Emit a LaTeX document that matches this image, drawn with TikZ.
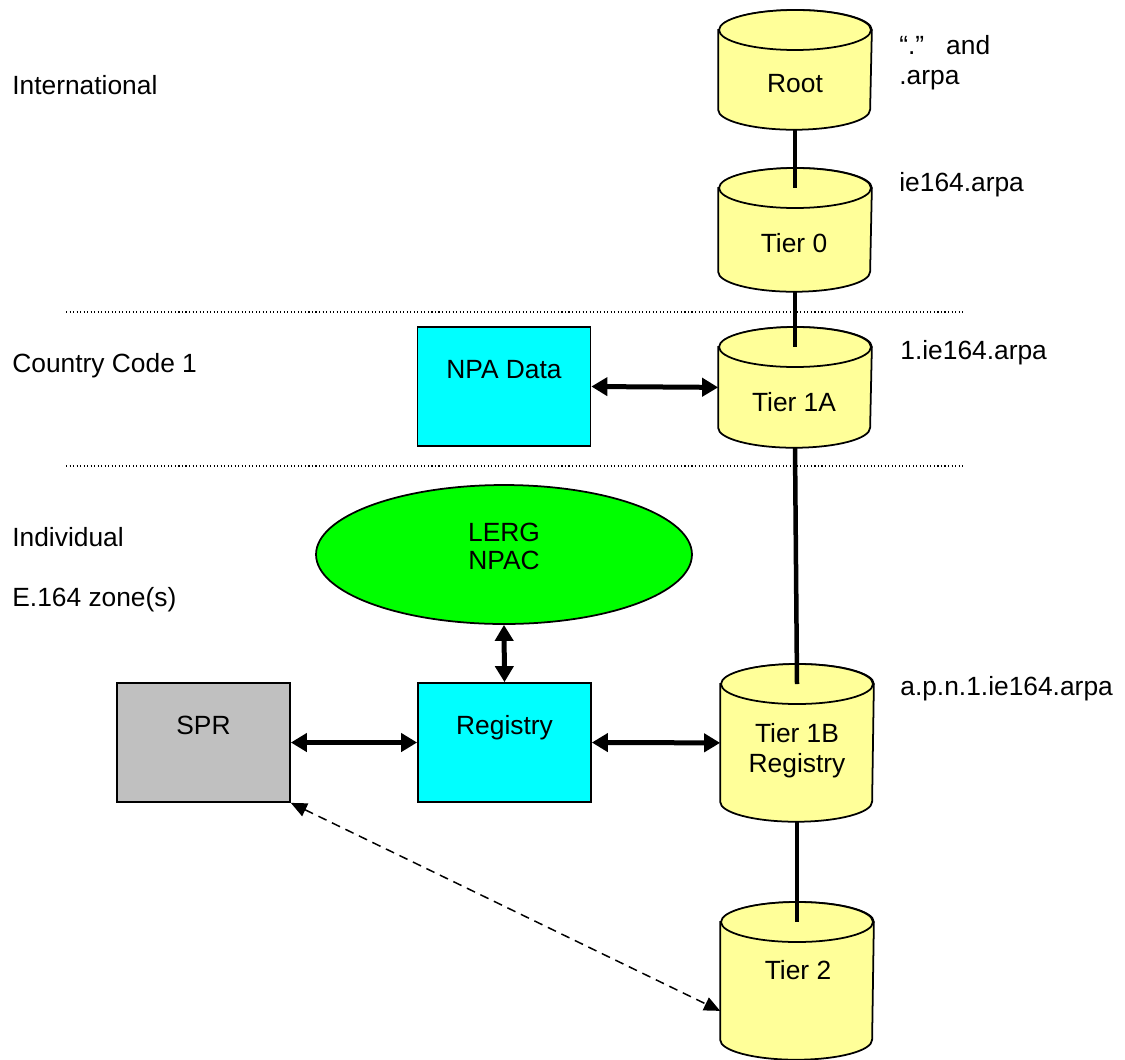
\documentclass[tikz,border=0pt]{standalone}
\usepackage{fontspec}
\setmainfont{Liberation Sans}
\usetikzlibrary{shapes.geometric,arrows.meta,positioning}

\definecolor{tieryellow}{HTML}{FFFF99}
\definecolor{boxcyan}{HTML}{00FFFF}
\definecolor{lerggreen}{HTML}{00FF00}
\definecolor{sprgray}{HTML}{C0C0C0}

\tikzset{
  every node/.style={font=\fontsize{15}{17}\selectfont, inner sep=0pt},
  capline/.style={text height=0.376cm, text depth=0pt},
  tier/.style={rectangle, line width=1pt, minimum width=3.04cm, anchor=north},
  tierline/.style={draw, line width=1pt, fill=tieryellow},
  databox/.style={rectangle, draw, line width=1pt, minimum width=3.46cm, minimum height=2.38cm,
    text height=0.376cm, text depth=0.68cm},
  link/.style={line width=0.09cm},
  dbl/.style={line width=0.1cm, {Triangle[length=0.32cm,width=0.36cm]}-{Triangle[length=0.32cm,width=0.36cm]}},
  lookup/.style={line width=0.03cm, dash pattern=on 0.18cm off 0.12cm,
    {Triangle[length=0.32cm,width=0.28cm]}-{Triangle[length=0.32cm,width=0.28cm]}},
  zone/.style={line width=0.6pt, dash pattern=on 0.6pt off 1.4pt},
}

\begin{document}
\begin{tikzpicture}[x=0.02cm, y=-0.02cm]
\useasboundingbox (0,0) rectangle (1125,1059);

% zone separators
\draw[zone] (66,312) -- (965,312);
\draw[zone] (66,466) -- (965,466);

% zone names
\node[capline, anchor=west] (intl) at (12,85) {International};
\node[capline, anchor=west] (cc1) at (12,363) {Country Code 1};
\node[capline, anchor=west] (indiv) at (12,537) {Individual};
\node[capline, anchor=west] (e164) at (12,597) {E.164 zone(s)};

% tier servers
\node[tier, minimum height=2.36cm] (root) at (795,10) {};
\node[tier, minimum height=2.44cm] (tier0) at (795,168) {};
\node[tier, minimum height=2.38cm] (tier1a) at (795,327) {};
\node[tier, minimum height=3.12cm] (tier1b) at (797,664) {};
\node[tier, minimum height=3.12cm] (tier2) at (797,902) {};

\foreach \t in {root,tier0,tier1a,tier1b,tier2}{
  \draw[tierline] ([yshift=-0.4cm]\t.north west) -- ([yshift=0.4cm]\t.south west)
    arc[start angle=180, end angle=360, x radius=1.52cm, y radius=0.4cm]
    -- ([yshift=-0.4cm]\t.north east)
    arc[start angle=0, end angle=180, x radius=1.52cm, y radius=0.4cm] -- cycle;
  \draw[tierline] ([yshift=-0.4cm]\t.north) ellipse[x radius=1.52cm, y radius=0.4cm];
}

\node[capline] (rootname) at (795,83) {Root};
\node[capline] (tier0name) at (794,243) {Tier 0};
\node[capline] (tier1aname) at (794,402) {Tier 1A};
\node[anchor=north, align=center] (tier1bname) at (797,723.5) {Tier 1B\\Registry};
\node[capline] (tier2name) at (798,970) {Tier 2};

% domains
\node[anchor=north west, align=left] (rootzone) at (899,35.5) {“.”~~~and\\.arpa};
\node[capline, anchor=west] (tier0zone) at (899,182) {ie164.arpa};
\node[capline, anchor=west] (tier1azone) at (900,350) {1.ie164.arpa};
\node[capline, anchor=west] (tier1bzone) at (900,686) {a.p.n.1.ie164.arpa};

% data sources
\node[databox, fill=boxcyan] (npa) at (504,386.5) {NPA Data};
\node[ellipse, draw, line width=1pt, fill=lerggreen, minimum width=7.52cm, minimum height=2.78cm] (lerg) at (504,554.5) {};
\node[anchor=north, align=center, font=\fontsize{15}{16}\selectfont] (lergname) at (504,522.5) {LERG\\NPAC};
\node[databox, fill=boxcyan] (registry) at (504.5,742.5) {Registry};
\node[databox, fill=sprgray] (spr) at (203.5,742.5) {SPR};

% tree links
\draw[link] (root.south) -- ([yshift=-0.4cm]tier0.north);
\draw[link] (tier0.south) -- ([yshift=-0.4cm]tier1a.north);
\draw[link] (tier1a.south) -- ([yshift=-0.4cm]tier1b.north);
\draw[link] (tier1b.south) -- ([yshift=-0.4cm]tier2.north);

% data flows
\draw[dbl] (npa.east) -- (tier1a.west);
\draw[dbl] (registry.north) -- (lerg.south);
\draw[dbl] (spr.east) -- (registry.west);
\draw[dbl] (registry.east) -- (tier1b.west);
\draw[lookup] (spr.south east) -- ([yshift=-0.6cm]tier2.west);
\end{tikzpicture}
\end{document}
